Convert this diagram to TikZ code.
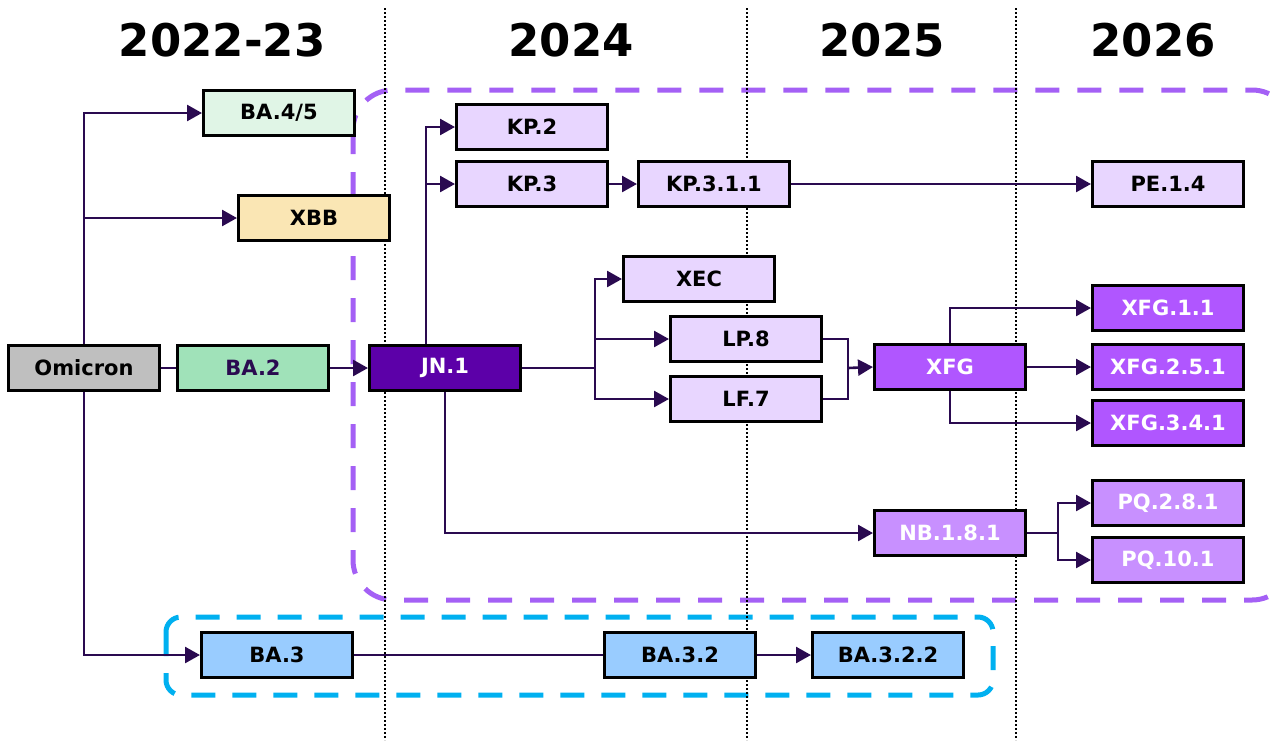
\documentclass[tikz,border=0pt]{standalone}
\usepackage{fontspec}
\setmainfont{DejaVu Sans}
\usepackage{tikz}
\usetikzlibrary{arrows.meta, positioning, calc}
\usepackage{xcolor}
\definecolor{linkpurple}{RGB}{42,10,80}
\definecolor{greybox}{RGB}{191,191,191}
\definecolor{mintbox}{RGB}{160,226,185}
\definecolor{palemint}{RGB}{224,245,230}
\definecolor{sandbox}{RGB}{250,230,180}
\definecolor{deeppurple}{RGB}{92,0,168}
\definecolor{lavender}{RGB}{232,214,255}
\definecolor{violet}{RGB}{176,86,255}
\definecolor{lilac}{RGB}{200,144,255}
\definecolor{skyblue}{RGB}{153,204,255}
\definecolor{dashpurple}{RGB}{164,96,245}
\definecolor{dashblue}{RGB}{0,176,240}

\begin{document}
\begin{tikzpicture}[x=1pt, y=-1pt,
  every node/.style={font=\fontsize{21}{25}\selectfont\bfseries},
  lineage/.style={draw=black, line width=3pt, minimum width=151pt, minimum height=45pt, inner sep=0pt},
  year/.style={font=\fontsize{45}{52}\selectfont\bfseries},
  link/.style={draw=linkpurple, line width=2.6pt, -{Triangle[length=15pt, width=16pt]}},
  plain/.style={draw=linkpurple, line width=2.6pt},
  timeline/.style={line width=2pt, dash pattern=on 2pt off 2pt},
  jngroup/.style={draw=dashpurple, line width=5pt, dash pattern=on 24pt off 18pt, rounded corners=40pt},
  bagroup/.style={draw=dashblue, line width=5pt, dash pattern=on 24pt off 17pt, rounded corners=15pt}]
  \useasboundingbox (0,0) rectangle (1277,740);

  \draw[jngroup] (353,90) rectangle (1292,600);
  \draw[bagroup] (166,617) rectangle (993,695);

  \draw[timeline] (385,8) -- (385,740);
  \draw[timeline] (747,8) -- (747,740);
  \draw[timeline] (1016,8) -- (1016,740);

  \node[year] (y2223) at (222,40) {2022-23};
  \node[year] (y2024) at (571,40) {2024};
  \node[year] (y2025) at (882,40) {2025};
  \node[year] (y2026) at (1153,40) {2026};

  \node[lineage, fill=greybox] (omicron) at (84,368) {Omicron};
  \node[lineage, fill=mintbox, text=linkpurple] (ba2) at (253,368) {BA.2};
  \node[lineage, fill=palemint] (ba45) at (279,113) {BA.4/5};
  \node[lineage, fill=sandbox] (xbb) at (314,218) {XBB};
  \node[lineage, fill=deeppurple, text=white] (jn1) at (445,368) {JN.1};

  \node[lineage, fill=lavender] (kp2) at (532,127) {KP.2};
  \node[lineage, fill=lavender] (kp3) at (532,184) {KP.3};
  \node[lineage, fill=lavender] (kp311) at (714,184) {KP.3.1.1};
  \node[lineage, fill=lavender] (pe14) at (1168,184) {PE.1.4};
  \node[lineage, fill=lavender] (xec) at (699,279) {XEC};
  \node[lineage, fill=lavender] (lp8) at (746,339) {LP.8};
  \node[lineage, fill=lavender] (lf7) at (746,399) {LF.7};

  \node[lineage, fill=violet, text=white] (xfg) at (950,367) {XFG};
  \node[lineage, fill=violet, text=white] (xfg11) at (1168,308) {XFG.1.1};
  \node[lineage, fill=violet, text=white] (xfg251) at (1168,367) {XFG.2.5.1};
  \node[lineage, fill=violet, text=white] (xfg341) at (1168,423) {XFG.3.4.1};

  \node[lineage, fill=lilac, text=white] (nb181) at (950,533) {NB.1.8.1};
  \node[lineage, fill=lilac, text=white] (pq281) at (1168,503) {PQ.2.8.1};
  \node[lineage, fill=lilac, text=white] (pq101) at (1168,560) {PQ.10.1};

  \node[lineage, fill=skyblue] (ba3) at (277,655) {BA.3};
  \node[lineage, fill=skyblue] (ba32) at (680,655) {BA.3.2};
  \node[lineage, fill=skyblue] (ba322) at (888,655) {BA.3.2.2};

  \coordinate (jnsplit) at (595,368);
  \coordinate (xfgmerge) at (848,368);
  \coordinate (nbsplit) at (1058,533);

  \draw[link] (omicron.north) |- (ba45.west);
  \draw[link] (omicron.north) |- (xbb.west);
  \draw[link] (omicron.south) |- (ba3.west);
  \draw[plain] (omicron.east) -- (ba2.west);
  \draw[link] (ba2.east) -- (jn1.west);

  \draw[link] ([xshift=-19pt]jn1.north) |- (kp2.west);
  \draw[link] ([xshift=-19pt]jn1.north) |- (kp3.west);
  \draw[link] (kp3.east) -- (kp311.west);
  \draw[link] (kp311.east) -- (pe14.west);

  \draw[plain] (jn1.east) -- (jnsplit);
  \draw[link] (jnsplit) |- (xec.west);
  \draw[link] (jnsplit) |- (lp8.west);
  \draw[link] (jnsplit) |- (lf7.west);

  \draw[plain] (lp8.east) -| (xfgmerge);
  \draw[plain] (lf7.east) -| (xfgmerge);
  \draw[link] (xfgmerge) -- (xfg.west);

  \draw[link] (xfg.north) |- (xfg11.west);
  \draw[link] (xfg.east) -- (xfg251.west);
  \draw[link] (xfg.south) |- (xfg341.west);

  \draw[link] (jn1.south) |- (nb181.west);
  \draw[plain] (nb181.east) -- (nbsplit);
  \draw[link] (nbsplit) |- (pq281.west);
  \draw[link] (nbsplit) |- (pq101.west);

  \draw[plain] (ba3.east) -- (ba32.west);
  \draw[link] (ba32.east) -- (ba322.west);
\end{tikzpicture}
\end{document}
